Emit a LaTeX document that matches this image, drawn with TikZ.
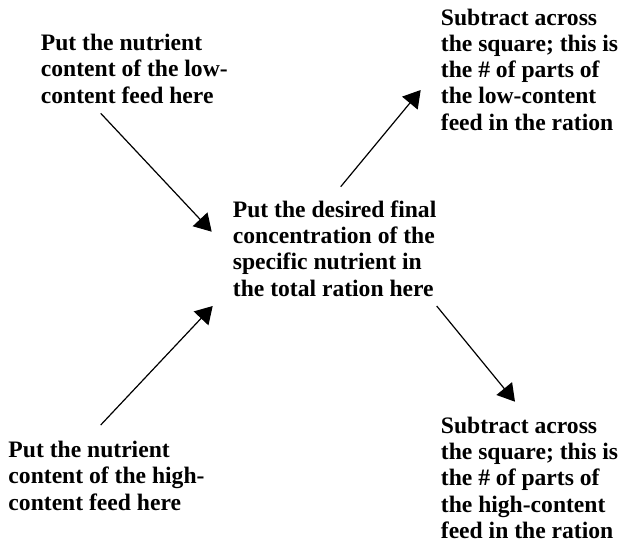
\documentclass[tikz,border=0pt]{standalone}
\usepackage{fontspec}
\setmainfont{Liberation Serif}
\usetikzlibrary{arrows.meta, positioning, calc}

\begin{document}
\begin{tikzpicture}[x=1pt, y=-1pt,
    note/.style={anchor=base west, inner sep=0pt, align=left,
        font=\fontsize{23.6}{26.3}\selectfont\bfseries},
    pointer/.style={line width=1.2pt, -{Triangle[length=17pt, width=20pt]}}]
\useasboundingbox (0,0) rectangle (623,550);

% Feeds (left) and the target (centre); placed by their last line
\node[note] (lowfeed) at (40.7,103) {Put the nutrient\\content of the low-\\content feed here};
\node[note] (highfeed) at (8.3,510) {Put the nutrient\\content of the high-\\content feed here};
\node[note] (target) at (232.7,296) {Put the desired final\\concentration of the\\specific nutrient in\\the total ration here};

% Parts (right)
\node[note] (lowparts) at (440.7,130.2) {Subtract across\\the square; this is\\the \# of parts of\\the low-content\\feed in the ration};
\node[note] (highparts) at (440.7,538.3) {Subtract across\\the square; this is\\the \# of parts of\\the high-content\\feed in the ration};

% Arrow ends
\coordinate (lowfrom) at (100.7,113.3);
\coordinate (lowto) at (211.7,231.7);
\coordinate (highfrom) at (100.7,425);
\coordinate (highto) at (212.7,306);
\coordinate (uprfrom) at (340.7,186.7);
\coordinate (uprto) at (420.7,90);
\coordinate (dnrfrom) at (436.7,306);
\coordinate (dnrto) at (515,401.7);

\draw[pointer] (lowfrom) -- (lowto);
\draw[pointer] (highfrom) -- (highto);
\draw[pointer] (uprfrom) -- (uprto);
\draw[pointer] (dnrfrom) -- (dnrto);
\end{tikzpicture}
\end{document}
